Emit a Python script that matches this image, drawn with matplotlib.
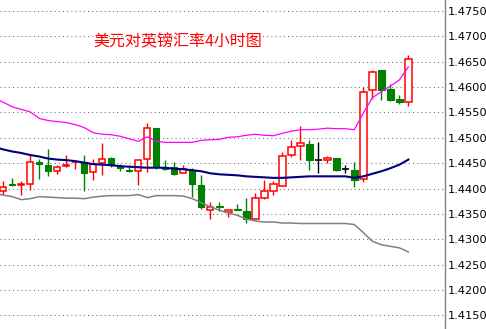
import matplotlib
matplotlib.use("Agg")
import matplotlib.pyplot as plt
from matplotlib.patches import Rectangle
import numpy as np

plt.rcParams['font.family'] = ['Noto Sans CJK SC', 'DejaVu Sans']

# 4-hour candles, GBP/USD
opens = [1.4395, 1.4408, 1.4407, 1.4409, 1.4453, 1.4447, 1.4435, 1.4444, 1.4452, 1.4453,
         1.4433, 1.4451, 1.4461, 1.4444, 1.4437, 1.4435, 1.4459, 1.4520, 1.4441, 1.4443,
         1.4431, 1.4436, 1.4406, 1.4358, 1.4365, 1.4353, 1.4359, 1.4356, 1.4340, 1.4382,
         1.4395, 1.4405, 1.4466, 1.4484, 1.4487, 1.4457, 1.4457, 1.4461, 1.4439, 1.4437,
         1.4419, 1.4595, 1.4633, 1.4597, 1.4576, 1.4571]
highs = [1.4415, 1.4421, 1.4415, 1.4466, 1.4459, 1.4478, 1.4447, 1.4466, 1.4455, 1.4467,
         1.4459, 1.4489, 1.4463, 1.4449, 1.4447, 1.4457, 1.4530, 1.4520, 1.4457, 1.4453,
         1.4447, 1.4441, 1.4426, 1.4374, 1.4374, 1.4360, 1.4370, 1.4382, 1.4391, 1.4416,
         1.4415, 1.4472, 1.4495, 1.4524, 1.4495, 1.4491, 1.4465, 1.4461, 1.4447, 1.4453,
         1.4601, 1.4634, 1.4633, 1.4607, 1.4584, 1.4663]
lows = [1.4388, 1.4405, 1.4388, 1.4398, 1.4418, 1.4424, 1.4428, 1.4442, 1.4439, 1.4395,
        1.4416, 1.4426, 1.4443, 1.4434, 1.4432, 1.4407, 1.4432, 1.4439, 1.4437, 1.4426,
        1.4430, 1.4384, 1.4360, 1.4340, 1.4355, 1.4344, 1.4357, 1.4332, 1.4340, 1.4380,
        1.4387, 1.4405, 1.4462, 1.4457, 1.4437, 1.4430, 1.4450, 1.4434, 1.4431, 1.4403,
        1.4413, 1.4577, 1.4574, 1.4572, 1.4566, 1.4562]
closes = [1.4403, 1.4407, 1.4408, 1.4453, 1.4448, 1.4434, 1.4443, 1.4447, 1.4453, 1.4430,
          1.4448, 1.4459, 1.4447, 1.4441, 1.4435, 1.4457, 1.4520, 1.4444, 1.4439, 1.4428,
          1.4438, 1.4409, 1.4364, 1.4364, 1.4364, 1.4357, 1.4358, 1.4340, 1.4382, 1.4395,
          1.4409, 1.4465, 1.4482, 1.4490, 1.4456, 1.4457, 1.4461, 1.4436, 1.4439, 1.4416,
          1.4591, 1.4630, 1.4595, 1.4574, 1.4570, 1.4656]

# Bollinger bands (first value belongs to the bar just left of the view)
upper = [1.4579, 1.4570, 1.4561, 1.4556, 1.4551, 1.4538, 1.4534, 1.4532, 1.4530, 1.4526,
         1.4520, 1.4510, 1.4507, 1.4506, 1.4503, 1.4498, 1.4493, 1.4502, 1.4493, 1.4491,
         1.4491, 1.4491, 1.4491, 1.4495, 1.4496, 1.4497, 1.4501, 1.4502, 1.4505, 1.4507,
         1.4505, 1.4504, 1.4509, 1.4513, 1.4516, 1.4516, 1.4517, 1.4519, 1.4518, 1.4518,
         1.4516, 1.4549, 1.4579, 1.4591, 1.4602, 1.4614, 1.4640]
middle = [1.4482, 1.4477, 1.4473, 1.4470, 1.4466, 1.4463, 1.4459, 1.4457, 1.4456, 1.4454,
          1.4451, 1.4448, 1.4447, 1.4446, 1.4444, 1.4443, 1.4442, 1.4441, 1.4441, 1.4441,
          1.4439, 1.4438, 1.4436, 1.4434, 1.4430, 1.4428, 1.4427, 1.4426, 1.4424, 1.4423,
          1.4422, 1.4421, 1.4421, 1.4422, 1.4423, 1.4424, 1.4424, 1.4424, 1.4424, 1.4424,
          1.4421, 1.4424, 1.4429, 1.4434, 1.4440, 1.4447, 1.4457]
lower = [1.4391, 1.4387, 1.4384, 1.4378, 1.4380, 1.4384, 1.4383, 1.4382, 1.4381, 1.4381,
         1.4380, 1.4383, 1.4385, 1.4386, 1.4386, 1.4386, 1.4388, 1.4382, 1.4386, 1.4386,
         1.4386, 1.4385, 1.4380, 1.4372, 1.4364, 1.4357, 1.4352, 1.4347, 1.4340, 1.4336,
         1.4334, 1.4334, 1.4332, 1.4332, 1.4331, 1.4331, 1.4331, 1.4331, 1.4331, 1.4331,
         1.4329, 1.4313, 1.4296, 1.4289, 1.4286, 1.4283, 1.4275]

yticks = [1.4150, 1.4200, 1.4250, 1.4300, 1.4350, 1.4400, 1.4450,
          1.4500, 1.4550, 1.4600, 1.4650, 1.4700, 1.4750]
title = "美元对英镑汇率4小时图"

fig = plt.figure(figsize=(4.86, 3.29), dpi=100)
ax = fig.add_axes([0, 0, 445 / 486, 1])

for yv in yticks:
    ax.axhline(yv, color='#6e6e6e', lw=0.75, ls=(0, (1, 3)), zorder=0)

w = 0.7
for i, (o, h, l, c) in enumerate(zip(opens, highs, lows, closes)):
    if c > o:
        col = 'red'
    elif c < o:
        col = 'green'
    else:
        col = 'black'
    ax.vlines(i, l, h, color=col, lw=1.0, zorder=2)
    if c == o:
        ax.hlines(o, i - w / 2, i + w / 2, color=col, lw=1.2, zorder=3)
    elif c > o:
        ax.add_patch(Rectangle((i - w / 2, o), w, c - o, facecolor='white',
                               edgecolor='red', lw=1.1, zorder=3))
    else:
        ax.add_patch(Rectangle((i - w / 2, c), w, o - c, facecolor='green',
                               edgecolor='green', lw=0.8, zorder=3))

bx = np.arange(-1, len(opens))
ax.plot(bx, upper, color='magenta', lw=0.9, zorder=4)
ax.plot(bx, middle, color='#000080', lw=1.5, zorder=4)
ax.plot(bx, lower, color='gray', lw=1.1, zorder=4)

ax.text(10.0, 1.4689, title, color='red', fontsize=11.5, va='center', ha='left')

ax.set_xlim(-0.37, 49.07)
ax.set_ylim(1.41230, 1.47717)
ax.set_yticks(yticks)
ax.set_yticklabels([f"{v:.4f}" for v in yticks], family='DejaVu Sans', fontsize=8.2)
ax.yaxis.tick_right()
ax.tick_params(axis='y', length=0, pad=2)
ax.set_xticks([])
for s in ['left', 'top', 'bottom']:
    ax.spines[s].set_visible(False)
ax.spines['right'].set_color('#808080')
ax.spines['right'].set_linewidth(1.0)

fig.savefig("out.png", dpi=100)
